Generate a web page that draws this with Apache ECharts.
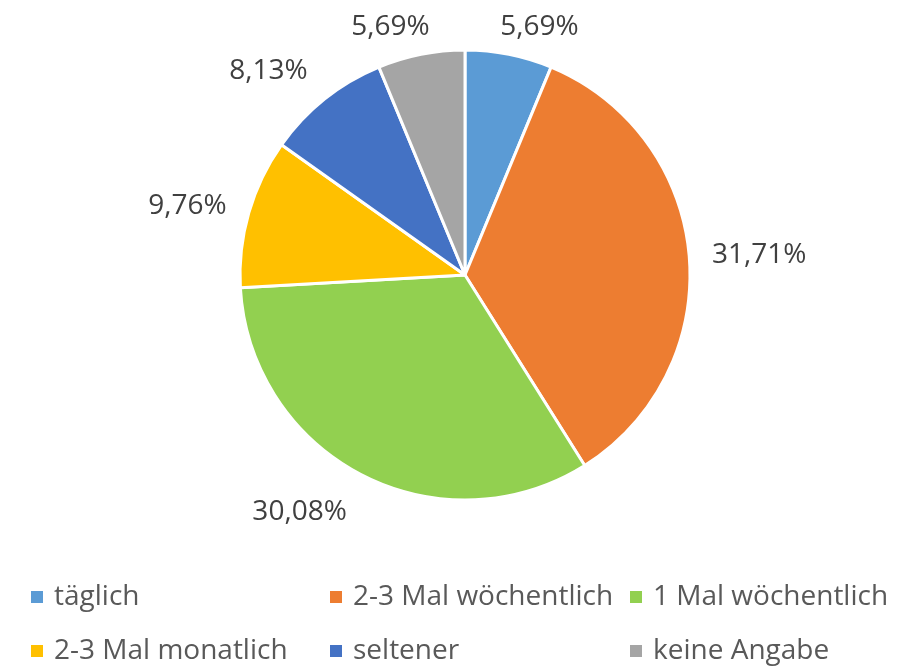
<!DOCTYPE html>
<html>
<head>
<meta charset="utf-8">
<script src="https://cdn.jsdelivr.net/npm/echarts@6/dist/echarts.min.js"></script>
<style>
  html, body { margin: 0; padding: 0; background: #fff; }
  #chart { width: 919px; height: 666px; }
</style>
</head>
<body>
<div id="chart"></div>
<script>
// Kategorien und Anteile (in %)
var categories = ['täglich', '2-3 Mal wöchentlich', '1 Mal wöchentlich', '2-3 Mal monatlich', 'seltener', 'keine Angabe'];
var shares = [5.69, 31.71, 30.08, 9.76, 8.13, 5.69];
var colors = ['#5B9BD5', '#ED7D31', '#92D050', '#FFC000', '#4472C4', '#A5A5A5'];
// kleine Verschiebungen der Beschriftungen (wie im Original)
var labelNudge = [[22, 16], [0, 5], [-36, -14], [0, 11], [-20, 17], [-22, 16]];

var CX = 465, CY = 275, R = 225;
var chart = echarts.init(document.getElementById('chart'));

var pieData = [];
for (var i = 0; i < categories.length; i++) {
    pieData.push({ name: categories[i], value: shares[i], itemStyle: { color: colors[i] } });
}

// Mittelwinkel jedes Segments (im Uhrzeigersinn ab 12 Uhr)
var total = shares.reduce(function (a, b) { return a + b; }, 0);
var midAngles = [];
var acc = 0;
shares.forEach(function (v) {
    midAngles.push((acc + v / 2) / total * 2 * Math.PI);
    acc += v;
});

// Legende: ein Eintrag pro Legend-Komponente, 3 Spalten x 2 Zeilen
var legendCols = [29, 328, 628];
var legendRows = [582, 636];
var legends = [];
categories.forEach(function (name, idx) {
    legends.push({
        left: legendCols[idx % 3],
        top: legendRows[Math.floor(idx / 3)],
        padding: 0,
        icon: 'rect',
        itemWidth: 14,
        itemHeight: 14,
        selectedMode: false,
        data: [name],
        textStyle: { fontFamily: 'Open Sans', fontSize: 28, color: '#595959', lineHeight: 30, padding: [0, 0, 0, 5] }
    });
});

var option = {
    backgroundColor: '#fff',
    animation: false,
    legend: legends,
    series: [{
        type: 'pie',
        center: [CX, CY],
        radius: R,
        startAngle: 90,
        clockwise: true,
        data: pieData,
        itemStyle: { borderColor: '#fff', borderWidth: 3 },
        label: {
            position: 'outside',
            fontFamily: 'Open Sans',
            fontSize: 28,
            color: '#404040',
            formatter: function (p) {
                return p.value.toFixed(2).replace('.', ',') + '%';
            }
        },
        labelLine: { show: false },
        // Beschriftung knapp ausserhalb des Kreises, Box an der Segmentmitte
        labelLayout: function (p) {
            var a = midAngles[p.dataIndex];
            var ux = Math.sin(a), uy = -Math.cos(a);
            var w = p.labelRect.width, h = 30;
            var t = Math.abs(ux) * w / 2 + Math.abs(uy) * h / 2;
            var d = R + 22 + t;
            var n = labelNudge[p.dataIndex];
            return { x: CX + ux * d + n[0], y: CY + uy * d + n[1], align: 'center', verticalAlign: 'middle' };
        }
    }]
};
chart.setOption(option);
</script>
</body>
</html>
